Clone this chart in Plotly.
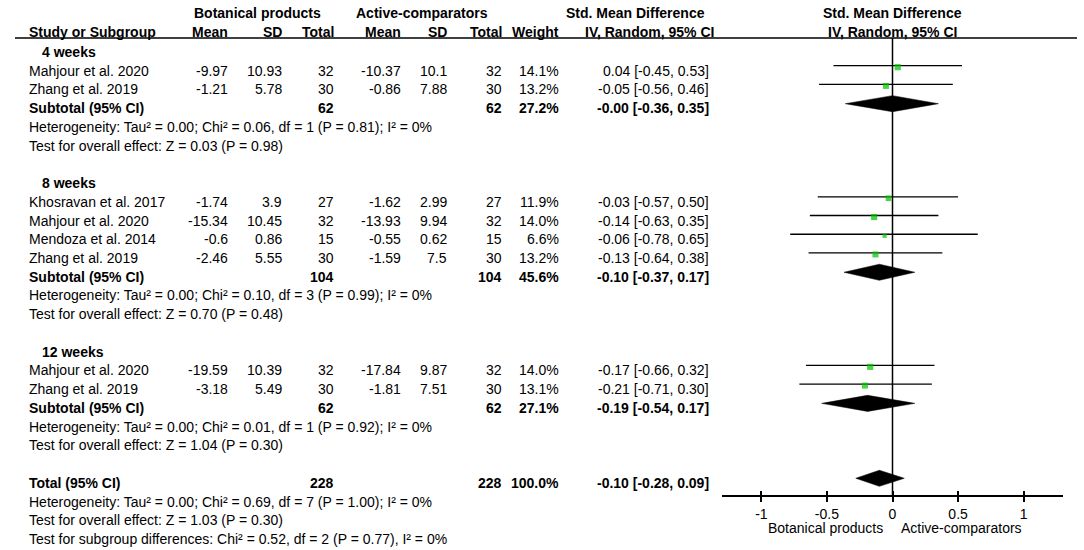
import math
import plotly.graph_objects as go

# ---------------- data ----------------
group_names = ["4 weeks", "8 weeks", "12 weeks"]
study_group = [0, 0, 1, 1, 1, 1, 2, 2]
study_names = ["Mahjour et al. 2020", "Zhang et al. 2019",
               "Khosravan et al. 2017", "Mahjour et al. 2020", "Mendoza et al. 2014", "Zhang et al. 2019",
               "Mahjour et al. 2020", "Zhang et al. 2019"]
bot_mean = [-9.97, -1.21, -1.74, -15.34, -0.6, -2.46, -19.59, -3.18]
bot_sd = [10.93, 5.78, 3.9, 10.45, 0.86, 5.55, 10.39, 5.49]
bot_n = [32, 30, 27, 32, 15, 30, 32, 30]
act_mean = [-10.37, -0.86, -1.62, -13.93, -0.55, -1.59, -17.84, -1.81]
act_sd = [10.1, 7.88, 2.99, 9.94, 0.62, 7.5, 9.87, 7.51]
act_n = [32, 30, 27, 32, 15, 30, 32, 30]
study_weight = [14.1, 13.2, 11.9, 14.0, 6.6, 13.2, 14.0, 13.1]
study_smd = [0.04, -0.05, -0.03, -0.14, -0.06, -0.13, -0.17, -0.21]
study_lo = [-0.45, -0.56, -0.57, -0.63, -0.78, -0.64, -0.66, -0.71]
study_hi = [0.53, 0.46, 0.50, 0.35, 0.65, 0.38, 0.32, 0.30]

sub_bot_n = [62, 104, 62]
sub_act_n = [62, 104, 62]
sub_weight = [27.2, 45.6, 27.1]
sub_smd = [-0.0, -0.10, -0.19]
sub_lo = [-0.36, -0.37, -0.54]
sub_hi = [0.35, 0.17, 0.17]
sub_heterogeneity = [
    "Heterogeneity: Tau² = 0.00; Chi² = 0.06, df = 1 (P = 0.81); I² = 0%",
    "Heterogeneity: Tau² = 0.00; Chi² = 0.10, df = 3 (P = 0.99); I² = 0%",
    "Heterogeneity: Tau² = 0.00; Chi² = 0.01, df = 1 (P = 0.92); I² = 0%",
]
sub_overall = [
    "Test for overall effect: Z = 0.03 (P = 0.98)",
    "Test for overall effect: Z = 0.70 (P = 0.48)",
    "Test for overall effect: Z = 1.04 (P = 0.30)",
]

total_label = "Total (95% CI)"
total_bot_n = 228
total_act_n = 228
total_weight = 100.0
total_smd = -0.10
total_lo = -0.28
total_hi = 0.09
total_heterogeneity = "Heterogeneity: Tau² = 0.00; Chi² = 0.69, df = 7 (P = 1.00); I² = 0%"
total_overall = "Test for overall effect: Z = 1.03 (P = 0.30)"
subgroup_diff = "Test for subgroup differences: Chi² = 0.52, df = 2 (P = 0.77), I² = 0%"

x_ticks = [-1, -0.5, 0, 0.5, 1]
x_tick_labels = ["-1", "-0.5", "0", "0.5", "1"]
favours_left = "Botanical products"
favours_right = "Active-comparators"

# ---------------- layout constants ----------------
W, H = 1084, 550
FONT = "Liberation Sans, Arial, sans-serif"
FS = 14
ROW0_PX, PITCH = 52.0, 18.73          # pixel centre of row 0, row pitch
AXIS_PX = 496                         # forest axis line (pixels from top)
RULE_PX = 38                          # header rule
PLOT_L, PLOT_R = 722, 1063            # forest axis extent (pixels)
XR = [-1.3, 1.3]
GREEN = "#00C000"
MARK_OFF = -0.27                      # marks sit slightly above text centre
DIA_HALF = 0.43                       # diamond half height in rows

# column anchors (pixels)
C_NAME, C_GROUP = 29, 42
C_M1, C_SD1, C_N1 = 228, 282, 334
C_M2, C_SD2, C_N2 = 401, 447, 502
C_W, C_CI = 559, 709


def px_to_row(py):
    return (py - ROW0_PX) / PITCH


def fmt_num(v):
    return f"{v:g}"


def fmt_ci(e, lo, hi):
    return f"{e:.2f} [{lo:.2f}, {hi:.2f}]"


annotations = []


def txt(xpx, row, s, anchor="right", bold=False):
    annotations.append(dict(
        x=xpx / W, xref="paper", y=row, yref="y",
        text=f"<b>{s}</b>" if bold else s,
        xanchor=anchor, yanchor="middle", showarrow=False,
        borderpad=0, borderwidth=0,
        font=dict(family=FONT, size=FS, color="black")))


# header rows
h1 = px_to_row(13)
h2 = px_to_row(32)
txt(257, h1, "Botanical products", "center", True)
txt(422, h1, "Active-comparators", "center", True)
txt(635, h1, "Std. Mean Difference", "center", True)
txt(C_NAME, h2, "Study or Subgroup", "left", True)
for xp, s in [(C_M1, "Mean"), (C_SD1, "SD"), (C_N1, "Total"),
              (C_M2, "Mean"), (C_SD2, "SD"), (C_N2, "Total"), (C_W, "Weight")]:
    txt(xp, h2, s, "right", True)
txt(649, h2, "IV, Random, 95% CI", "center", True)

# build rows
row = 0
study_rows, sub_rows = [], []
for g, gname in enumerate(group_names):
    txt(C_GROUP, row, gname, "left", True)
    row += 1
    for i in range(len(study_names)):
        if study_group[i] != g:
            continue
        txt(C_NAME, row, study_names[i], "left")
        txt(C_M1, row, fmt_num(bot_mean[i]))
        txt(C_SD1, row, fmt_num(bot_sd[i]))
        txt(C_N1, row, str(bot_n[i]))
        txt(C_M2, row, fmt_num(act_mean[i]))
        txt(C_SD2, row, fmt_num(act_sd[i]))
        txt(C_N2, row, str(act_n[i]))
        txt(C_W, row, f"{study_weight[i]:.1f}%")
        txt(C_CI, row, fmt_ci(study_smd[i], study_lo[i], study_hi[i]))
        study_rows.append(row)
        row += 1
    txt(C_NAME, row, "Subtotal (95% CI)", "left", True)
    txt(C_N1, row, str(sub_bot_n[g]), bold=True)
    txt(C_N2, row, str(sub_act_n[g]), bold=True)
    txt(C_W, row, f"{sub_weight[g]:.1f}%", bold=True)
    txt(C_CI, row, fmt_ci(sub_smd[g], sub_lo[g], sub_hi[g]), bold=True)
    sub_rows.append(row)
    row += 1
    txt(C_NAME, row, sub_heterogeneity[g], "left")
    row += 1
    txt(C_NAME, row, sub_overall[g], "left")
    row += 2

total_row = row
txt(C_NAME, row, total_label, "left", True)
txt(C_N1, row, str(total_bot_n), bold=True)
txt(C_N2, row, str(total_act_n), bold=True)
txt(C_W, row, f"{total_weight:.1f}%", bold=True)
txt(C_CI, row, fmt_ci(total_smd, total_lo, total_hi), bold=True)
row += 1
txt(C_NAME, row, total_heterogeneity, "left")
row += 1
txt(C_NAME, row, total_overall, "left")
row += 1
txt(C_NAME, row, subgroup_diff, "left")

# forest-plot headers (centred on zero of the axis)
plot_centre = PLOT_L + (0 - XR[0]) / (XR[1] - XR[0]) * (PLOT_R - PLOT_L)
txt(plot_centre, h1, "Std. Mean Difference", "center", True)
txt(plot_centre, h2, "IV, Random, 95% CI", "center", True)

# favours labels
for xp, s, anc in [(plot_centre - 9, favours_left, "right"), (plot_centre + 7, favours_right, "left")]:
    annotations.append(dict(x=xp / W, xref="paper", y=1 - 528 / H, yref="paper",
                            text=s, xanchor=anc, yanchor="middle", showarrow=False,
                            borderpad=0, font=dict(family=FONT, size=FS, color="black")))

fig = go.Figure()

# CI lines
lx, ly = [], []
for i, r in enumerate(study_rows):
    lx += [study_lo[i], study_hi[i], None]
    ly += [r + MARK_OFF, r + MARK_OFF, None]
fig.add_trace(go.Scatter(x=lx, y=ly, mode="lines", line=dict(color="black", width=1.3),
                         hoverinfo="skip", showlegend=False))

# squares
fig.add_trace(go.Scatter(x=study_smd, y=[r + MARK_OFF + 0.08 for r in study_rows], mode="markers",
                         marker=dict(symbol="square", color=GREEN,
                                     size=[1.65 * math.sqrt(w) for w in study_weight],
                                     line=dict(width=0)),
                         hoverinfo="skip", showlegend=False))

# diamonds
def diamond(e, lo, hi, r):
    yc = r + MARK_OFF + 0.03
    fig.add_trace(go.Scatter(x=[lo, e, hi, e, lo], y=[yc, yc - DIA_HALF, yc, yc + DIA_HALF, yc],
                             mode="lines", fill="toself", fillcolor="black",
                             line=dict(color="black", width=0.5),
                             hoverinfo="skip", showlegend=False))

for g, r in enumerate(sub_rows):
    diamond(sub_smd[g], sub_lo[g], sub_hi[g], r)
diamond(total_smd, total_lo, total_hi, total_row)

# helper trace for inner tick axis
fig.add_trace(go.Scatter(x=x_ticks, y=[None] * len(x_ticks), xaxis="x2", yaxis="y",
                         mode="markers", hoverinfo="skip", showlegend=False))

shapes = [
    dict(type="line", xref="paper", yref="paper", x0=15 / W, x1=1077 / W,
         y0=1 - RULE_PX / H, y1=1 - RULE_PX / H, line=dict(color="black", width=1.5)),
    dict(type="line", xref="x", yref="paper", x0=0, x1=0,
         y0=1 - AXIS_PX / H, y1=1 - RULE_PX / H, line=dict(color="black", width=1.5), layer="below"),
]

axis_common = dict(domain=[PLOT_L / W, PLOT_R / W], range=XR, anchor="free",
                   position=1 - AXIS_PX / H, showgrid=False, zeroline=False,
                   tickvals=x_ticks, fixedrange=True)

fig.update_layout(
    width=W, height=H, autosize=False,
    margin=dict(l=0, r=0, t=0, b=0, pad=0),
    paper_bgcolor="white", plot_bgcolor="rgba(0,0,0,0)",
    showlegend=False,
    xaxis=dict(**axis_common, showline=True, linecolor="black", linewidth=1.5,
               ticks="outside", ticklen=5, tickwidth=1.5, tickcolor="black",
               ticktext=x_tick_labels, tickfont=dict(family=FONT, size=FS, color="black")),
    xaxis2=dict(**axis_common, overlaying="x", matches="x", showline=False,
                ticks="inside", ticklen=5, tickwidth=1.5, tickcolor="black",
                showticklabels=False),
    yaxis=dict(domain=[0, 1], range=[px_to_row(H), px_to_row(0)], visible=False,
               fixedrange=True),
    shapes=shapes,
    annotations=annotations,
)

fig.write_html("out.html", config={"displayModeBar": False},
               post_script="document.body.style.margin='0px';document.body.style.overflow='hidden';")
